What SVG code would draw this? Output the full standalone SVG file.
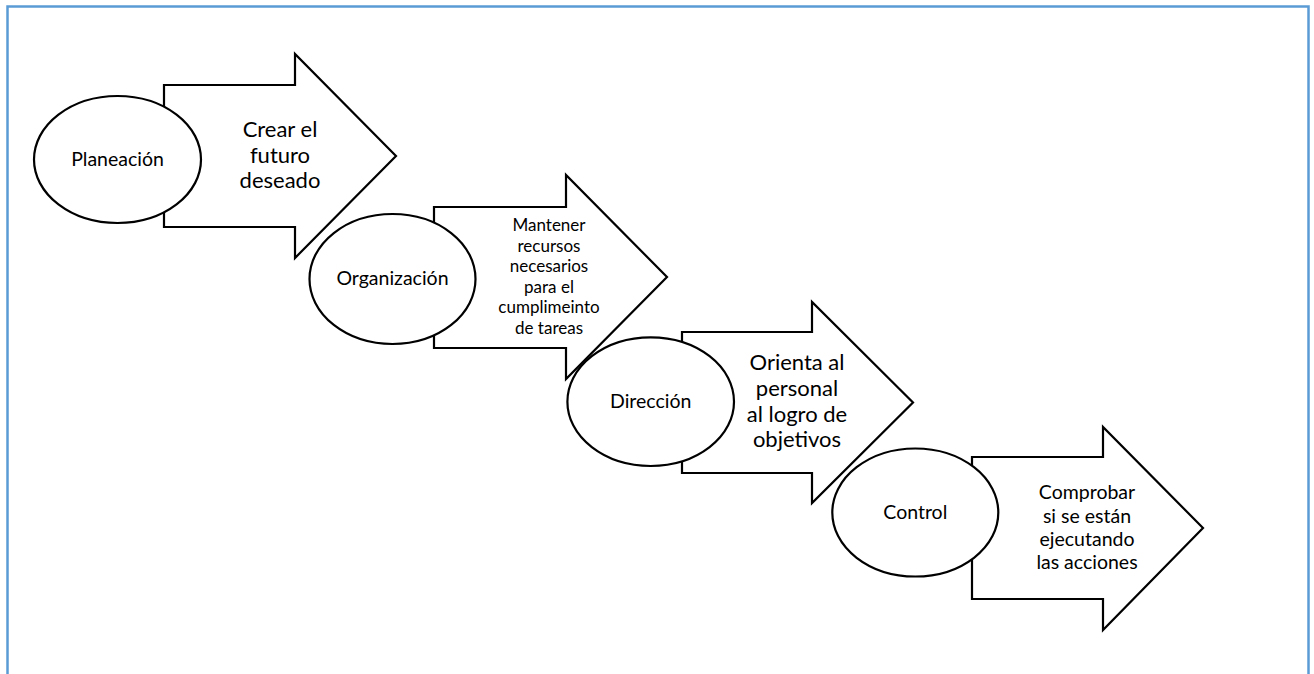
<svg xmlns="http://www.w3.org/2000/svg" width="1314" height="674" viewBox="0 0 1314 674">
<style>
.bg{fill:#ffffff}
.frame{fill:none;stroke:#5b9bd5;stroke-width:2.5}
.shape{fill:#ffffff;stroke:#000000;stroke-width:2.2;stroke-linejoin:miter}
.t{font-family:Lato,"Open Sans","Liberation Sans",sans-serif;fill:#000000;text-anchor:middle}
.lbl{font-size:19.5px}
.a1{font-size:22px}
.a2{font-size:17px}
.a3{font-size:22px}
.a4{font-size:19.5px}
</style>
<rect class="bg" x="0" y="0" width="1314" height="674"/>
<rect class="frame" x="7.5" y="6.5" width="1301" height="700"/>
<g id="connectors"/>
<g id="arrow-planeacion">
<polygon class="shape" points="164,85 295,85 295,54 396,156 295,258 295,227 164,227"/>
<text class="t a1" x="280" y="137">Crear el</text>
<text class="t a1" x="280" y="163">futuro</text>
<text class="t a1" x="280" y="188">deseado</text>
</g>
<g id="node-planeacion">
<ellipse class="shape" cx="117.5" cy="159.5" rx="83.5" ry="63.5"/>
<text class="t lbl" x="117.5" y="166">Planeación</text>
</g>
<g id="arrow-organizacion">
<polygon class="shape" points="434,207 566,207 566,175 667,277 566,379 566,348 434,348"/>
<text class="t a2" x="549" y="231">Mantener</text>
<text class="t a2" x="549" y="251.5">recursos</text>
<text class="t a2" x="549" y="272">necesarios</text>
<text class="t a2" x="549" y="292.5">para el</text>
<text class="t a2" x="549" y="313">cumplimeinto</text>
<text class="t a2" x="549" y="333.5">de tareas</text>
</g>
<g id="node-organizacion">
<ellipse class="shape" cx="392.5" cy="279" rx="83" ry="65"/>
<text class="t lbl" x="392.5" y="285">Organización</text>
</g>
<g id="arrow-direccion">
<polygon class="shape" points="682,332 812,332 812,302 913,402.5 812,503 812,473 682,473"/>
<text class="t a3" x="797" y="370">Orienta al</text>
<text class="t a3" x="797" y="396">personal</text>
<text class="t a3" x="797" y="421.5">al logro de</text>
<text class="t a3" x="797" y="447">objetivos</text>
</g>
<g id="node-direccion">
<ellipse class="shape" cx="650.7" cy="401.7" rx="83.3" ry="64.3"/>
<text class="t lbl" x="650.7" y="408">Dirección</text>
</g>
<g id="arrow-control">
<polygon class="shape" points="972,457 1103,457 1103,427 1203,528 1103,630 1103,599 972,599"/>
<text class="t a4" x="1087" y="499">Comprobar</text>
<text class="t a4" x="1087" y="522.5">si se están</text>
<text class="t a4" x="1087" y="546">ejecutando</text>
<text class="t a4" x="1087" y="568.5">las acciones</text>
</g>
<g id="node-control">
<ellipse class="shape" cx="915.3" cy="512.5" rx="83" ry="64"/>
<text class="t lbl" x="915.3" y="519">Control</text>
</g>
</svg>
